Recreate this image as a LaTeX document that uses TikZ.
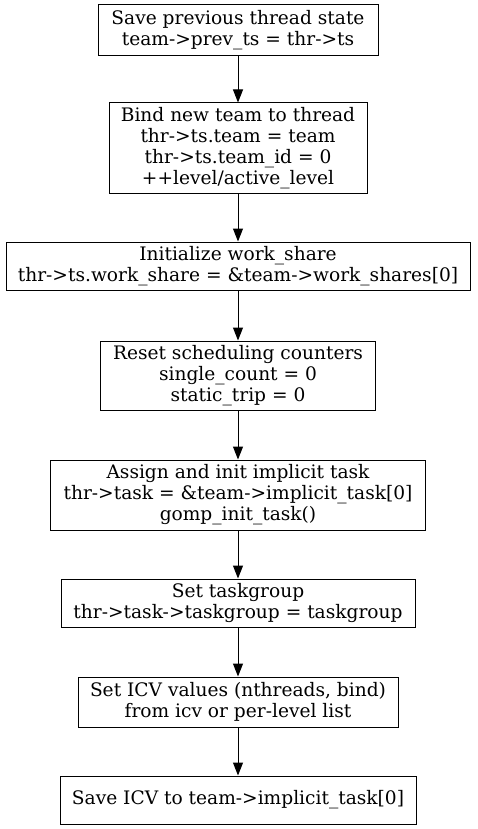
\documentclass[tikz,border=0pt]{standalone}
\usepackage{fontspec}
\setmainfont{DejaVu Serif}
\usetikzlibrary{arrows.meta}
\tikzset{
  box/.style={draw, line width=1pt, inner sep=0pt, align=center, font=\fontsize{18.6}{21}\selectfont},
  conn/.style={draw, line width=1pt, -{Triangle[length=13pt,width=10pt]}}
}
\begin{document}
\begin{tikzpicture}[x=1pt,y=-1pt]
\useasboundingbox (0,0) rectangle (477,829);
\node[box, minimum width=280pt, minimum height=51pt] (n1) at (238,30.5) {Save previous thread state\\team->prev\_ts = thr->ts};
\node[box, minimum width=258pt, minimum height=90pt] (n2) at (238,148) {Bind new team to thread\\thr->ts.team = team\\thr->ts.team\_id = 0\\++level/active\_level};
\node[box, minimum width=464pt, minimum height=48pt] (n3) at (238,266) {Initialize work\_share\\thr->ts.work\_share = \&team->work\_shares[0]};
\node[box, minimum width=275pt, minimum height=69pt] (n4) at (238,375.5) {Reset scheduling counters\\single\_count = 0\\static\_trip = 0};
\node[box, minimum width=375pt, minimum height=70pt] (n5) at (238,495) {Assign and init implicit task\\thr->task = \&team->implicit\_task[0]\\gomp\_init\_task()};
\node[box, minimum width=354pt, minimum height=48pt] (n6) at (238,603) {Set taskgroup\\thr->task->taskgroup = taskgroup};
\node[box, minimum width=320pt, minimum height=50pt] (n7) at (238,702) {Set ICV values (nthreads, bind)\\from icv or per-level list};
\node[box, minimum width=356pt, minimum height=48pt] (n8) at (238,800) {Save ICV to team->implicit\_task[0]};
\draw[conn] (n1) -- (n2);
\draw[conn] (n2) -- (n3);
\draw[conn] (n3) -- (n4);
\draw[conn] (n4) -- (n5);
\draw[conn] (n5) -- (n6);
\draw[conn] (n6) -- (n7);
\draw[conn] (n7) -- (n8);
\end{tikzpicture}
\end{document}
